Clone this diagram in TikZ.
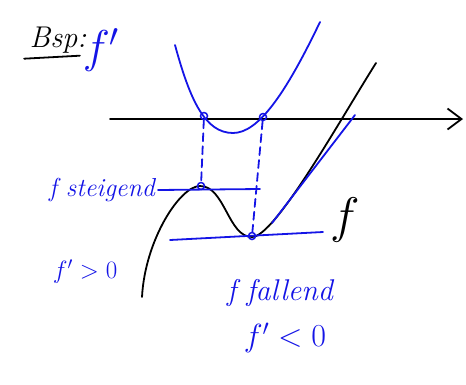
\RequirePackage{fix-cm}
\documentclass[tikz,border=0pt]{standalone}
\usetikzlibrary{arrows.meta}
\definecolor{ink}{HTML}{1414E6}

\begin{document}
\begin{tikzpicture}[x=1pt, y=-1pt,
    pen/.style={line width=1.8pt, line cap=round, line join=round},
    bluepen/.style={pen, ink},
    dot/.style={circle, draw=ink, line width=1.5pt, inner sep=0pt, minimum size=7pt},
    lbl/.style={font=\fontsize{26}{28}\selectfont\itshape, text=ink},
]
\useasboundingbox (0,0) rectangle (466,384);

% axis
\coordinate (ax0) at (110,119);
\coordinate (ax1) at (463,119);
\draw[pen, -{Straight Barb[length=14pt, width=21pt]}] (ax0) -- (ax1);

% f' (parabola)
\draw[bluepen] (175,45) .. controls (190,100) and (205,133) .. (233,133)
    .. controls (258,133) and (285,95) .. (320,22);

% f
\draw[pen] (142,297) .. controls (145,240) and (180,186) .. (200,186)
    .. controls (225,186) and (228,237) .. (252,237)
    .. controls (275,237) and (340,120) .. (376,63);

% tangents
\coordinate (t1a) at (158,190);
\coordinate (t1b) at (260,189);
\draw[bluepen] (t1a) -- (t1b);
\coordinate (t2a) at (170,240);
\coordinate (t2b) at (323,232);
\draw[bluepen] (t2a) -- (t2b);
\coordinate (t3a) at (272,223);
\coordinate (t3b) at (355,115);
\draw[bluepen] (t3a) -- (t3b);

% marked points
\node[dot] (z1) at (204,116) {};
\node[dot] (z2) at (263,117) {};
\node[dot] (hp) at (201,186) {};
\node[dot] (tp) at (252,236) {};
\draw[bluepen, dash pattern=on 8pt off 5pt] (z1) -- (hp);
\draw[bluepen, dash pattern=on 8pt off 5pt] (z2) -- (tp);

% labels
\node[font=\fontsize{30}{32}\selectfont\itshape] (bsp) at (58,40) {Bsp:};
\draw[pen] ([xshift=-2pt, yshift=-2pt]bsp.south west) -- ([xshift=-10pt, yshift=1pt]bsp.south east);
\node[text=ink, font=\fontsize{46}{48}\selectfont] (fs) at (101,50) {$f'$};
\node[lbl] (steig) at (102,190) {f steigend};
\node[lbl, font=\fontsize{25}{27}\selectfont] (fgr) at (85,272) {$f'>0$};
\node[lbl, font=\fontsize{30}{32}\selectfont\itshape] (fall) at (280,293) {f fallend};
\node[lbl, font=\fontsize{32}{34}\selectfont] (fkl) at (285,338) {$f'<0$};
\node[font=\fontsize{50}{52}\selectfont] (f) at (345,220) {$f$};

\end{tikzpicture}
\end{document}
